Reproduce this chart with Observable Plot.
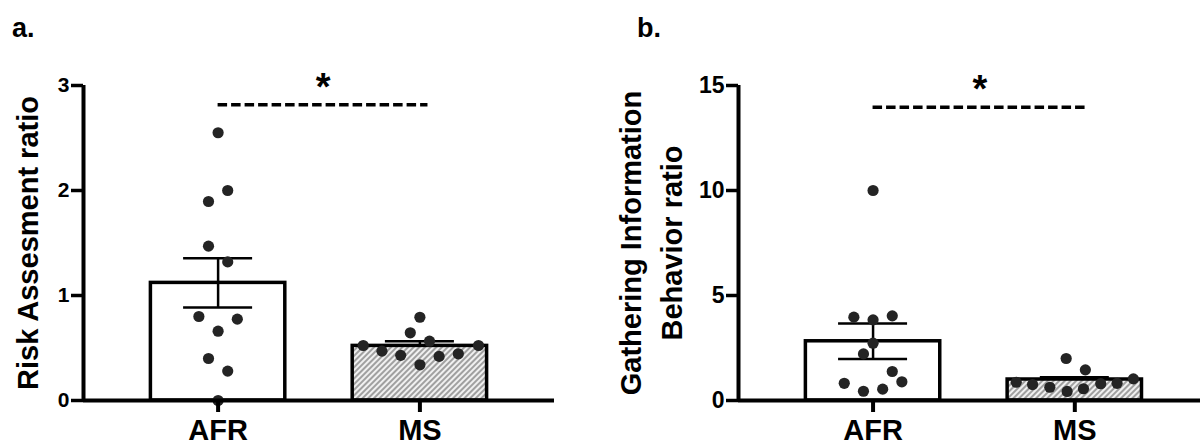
<!DOCTYPE html>
<html>
<head>
<meta charset="utf-8">
<script src="https://cdn.jsdelivr.net/npm/d3@7"></script>
<script src="https://cdn.jsdelivr.net/npm/@observablehq/plot@0.6"></script>
<style>
  html, body { margin: 0; padding: 0; background: white; overflow: hidden; }
  #wrap { position: relative; width: 1200px; height: 445px; font-family: "Liberation Sans", Arial, sans-serif; }
  .panel { position: absolute; top: 0; z-index: 1; }
  .tag { position: absolute; font-size: 27px; font-weight: bold; line-height: 1; z-index: 2; }
</style>
</head>
<body>
<div id="wrap">
  <div class="panel" id="pa" style="left:0px;"></div>
  <div class="panel" id="pb" style="left:600px;"></div>
  <div class="tag" style="left:12px; top:15px;">a.</div>
  <div class="tag" style="left:637px; top:15px;">b.</div>
</div>
<script>
// ---- data ----
const groups = ["AFR", "MS"];

// Panel a: Risk Assesment ratio
const meanA = [1.12, 0.52];
const semA = [0.235, 0.045];
const afrA = [2.55, 2.0, 1.895, 1.47, 1.32, 0.80, 0.775, 0.66, 0.40, 0.28, 0.0];
const afrAcol = [0, 1, -1, -1, 1, -2, 2, 0, -1, 1, 0];
const msA = [0.524, 0.47, 0.43, 0.645, 0.793, 0.34, 0.565, 0.42, 0.445, 0.524];
const msAcol = [-5.9, -3.95, -2, -1, 0, 0, 1, 2, 4, 6.1];
const ticksA = [0, 1, 2, 3];
const sigA = { x1: 0, x2: 1.04, y: 2.816 };

// Panel b: Gathering Information Behavior ratio
const meanB = [2.82, 1.0];
const semB = [0.845, 0.11];
const afrB = [10.0, 3.97, 3.84, 4.03, 2.73, 2.22, 1.38, 0.89, 0.82, 0.44, 0.54];
const afrBcol = [0, -2, 0, 2, 0, -1, 2, 3, -3, -1, 1];
const msB = [0.87, 0.76, 0.63, 2.0, 0.43, 1.46, 0.56, 0.80, 0.82, 1.03];
const msBcol = [-6.1, -4.4, -2.6, -0.9, -0.8, 1.1, 0.9, 2.7, 4.4, 6.1];
const ticksB = [0, 5, 10, 15];
const sigB = { x1: 0, x2: 1.06, y: 13.97 };

// ---- drawing ----
const COL = 0.0476;   // horizontal spacing of dot columns (x units)
const HALF = 0.333;   // half bar width
const CAP = 0.171;    // half error cap width
const XMIN = -0.667;

function panel(o) {
  const bars = groups.map((g, i) => ({ i, g, mean: o.means[i], sem: o.sems[i] }));
  const dots = [
    ...o.afr.map((v, k) => ({ x: 0 + o.afrCol[k] * COL, y: v })),
    ...o.ms.map((v, k) => ({ x: 1 + o.msCol[k] * COL, y: v }))
  ];
  const svg = Plot.plot({
    width: 600,
    height: 445,
    marginLeft: o.marginLeft,
    marginRight: o.marginRight,
    marginTop: 85,
    marginBottom: 45,
    style: { fontFamily: "'Liberation Sans', Arial, sans-serif", color: "black", background: "white" },
    x: { domain: [XMIN, o.xMax] },
    y: { domain: [0, o.yMax] },
    marks: [
      // error bars (behind the bars, as in the original)
      Plot.ruleX(bars, { x: "i", y1: d => d.mean - d.sem, y2: d => d.mean + d.sem, strokeWidth: 2.5 }),
      Plot.ruleY(bars, { y: d => d.mean + d.sem, x1: d => d.i - CAP, x2: d => d.i + CAP, strokeWidth: 2.5 }),
      Plot.ruleY(bars, { y: d => d.mean - d.sem, x1: d => d.i - CAP, x2: d => d.i + CAP, strokeWidth: 2.5 }),
      // bars
      Plot.rectY(bars.filter(d => d.i === 0), { x1: d => d.i - HALF, x2: d => d.i + HALF, y1: 0, y2: "mean", fill: "none", stroke: "black", strokeWidth: 3.5 }),
      Plot.rectY(bars.filter(d => d.i === 1), { x1: d => d.i - HALF, x2: d => d.i + HALF, y1: 0, y2: "mean", fill: `url(#${o.hatch})`, stroke: "black", strokeWidth: 3.5 }),
      // individual points
      Plot.dot(dots, { x: "x", y: "y", r: 5.6, fill: "#242424", stroke: "none" }),
      // significance
      Plot.ruleY([o.sig], { y: "y", x1: "x1", x2: "x2", strokeWidth: 3.5, strokeDasharray: "9.5,4" }),
      Plot.text([o.sig], { x: d => (d.x1 + d.x2) / 2, y: "y", text: () => "*", fontSize: 38, fontWeight: "bold", dy: -17 }),
      // axes
      Plot.axisY({ ticks: o.ticks, tickFormat: d => String(d), tickSize: 12, tickPadding: o.tickPad, fontSize: o.tickFont, fontWeight: "bold", strokeWidth: 3.5, label: null }),
      Plot.axisX({ ticks: [0, 1], tickFormat: i => groups[i], tickSize: 12, tickPadding: 7, fontSize: 29, fontWeight: "bold", strokeWidth: 4, label: null }),
      Plot.ruleY([0], { strokeWidth: 4 }),
      Plot.ruleX([XMIN], { strokeWidth: 4 }),
      // y-axis title
      Plot.text([o.label], { frameAnchor: "left", textAnchor: "middle", text: d => d, rotate: -90, fontSize: 29, fontWeight: "bold", dx: o.labelDx, lineHeight: 1.39 })
    ]
  });
  const defs = d3.select(svg).insert("defs", ":first-child");
  const pat = defs.append("pattern")
    .attr("id", o.hatch)
    .attr("patternUnits", "userSpaceOnUse")
    .attr("width", 4).attr("height", 4)
    .attr("patternTransform", "rotate(45)");
  pat.append("rect").attr("width", 4).attr("height", 4).attr("fill", "#f0f0f0");
  pat.append("line").attr("x1", 2).attr("y1", 0).attr("x2", 2).attr("y2", 4)
    .attr("stroke", "#858585").attr("stroke-width", 1.5);
  return svg;
}

document.getElementById("pa").append(panel({
  means: meanA, sems: semA, afr: afrA, afrCol: afrAcol, ms: msA, msCol: msAcol,
  yMax: 3, ticks: ticksA, sig: sigA, label: "Risk Assesment ratio",
  marginLeft: 83, marginRight: 46, xMax: 1.667, tickFont: 21, tickPad: 2,
  hatch: "hatchA", labelDx: -58
}));
document.getElementById("pb").append(panel({
  means: meanB, sems: semB, afr: afrB, afrCol: afrBcol, ms: msB, msCol: msBcol,
  yMax: 15, ticks: ticksB, sig: sigB, label: "Gathering Information\nBehavior ratio",
  marginLeft: 138, marginRight: 0, xMax: 1.623, tickFont: 23, tickPad: 2,
  hatch: "hatchB", labelDx: -90
}));
</script>
</body>
</html>
